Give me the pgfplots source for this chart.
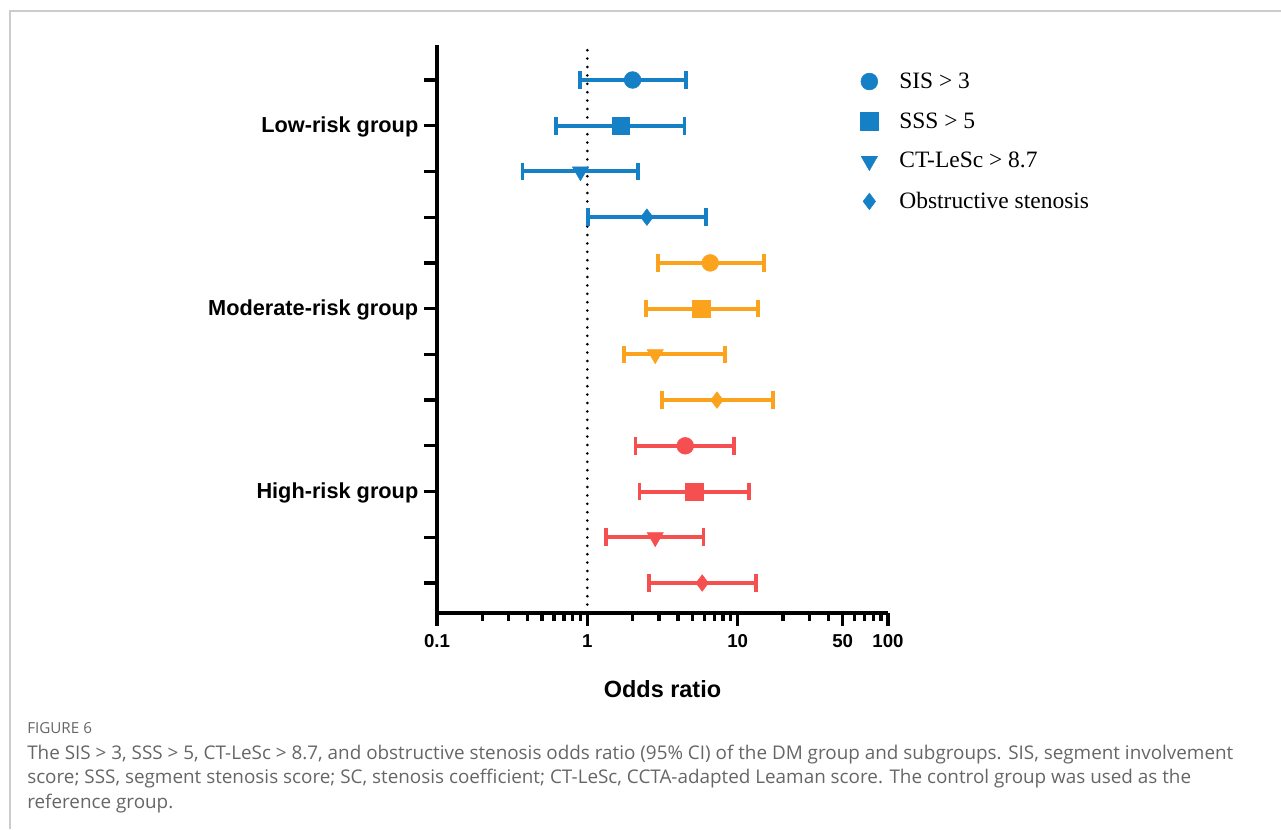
\documentclass[border=0pt]{standalone}
\usepackage{pgfplots}
\pgfplotsset{compat=1.18}
\usepackage{fontspec}
\setmainfont{Liberation Sans}
\newfontfamily\legendfont{Liberation Serif}
\newfontfamily\capfont{Open Sans}
\definecolor{cblue}{HTML}{1580C6}
\definecolor{corange}{HTML}{FBA31C}
\definecolor{cred}{HTML}{F5504F}
\definecolor{capgray}{HTML}{666666}
\pgfplotsset{
  ci/.style={line width=3pt, mark=|, mark size=6.6pt, mark options={line width=2.8pt, solid}, forget plot},
  pt/.style={only marks, mark size=6.3pt},
}
\begin{document}
\begin{tikzpicture}
\useasboundingbox (0pt,0pt) rectangle (960.75pt,-621.75pt);
\draw[black!20, line width=1.3pt] (7.5pt,-621.75pt) -- (7.5pt,-8.25pt) -- (960.75pt,-8.25pt);
\begin{axis}[
  at={(327.75pt,-459.75pt)}, anchor=south west,
  scale only axis, width=338.25pt, height=426pt,
  xmode=log, xmin=0.1, xmax=100, ymin=0.344, ymax=12.765,
  axis x line=bottom, axis y line=left,
  axis line style={line width=3pt, -},
  xtick={0.1,1,10,50,100}, xticklabels={0.1,1,10,50,100},
  minor xtick={0.2,0.3,0.4,0.5,0.6,0.7,0.8,0.9,2,3,4,5,6,7,8,9,20,30,40,60,70,80,90},
  ytick={1,2,3,4,5,6,7,8,9,10,11,12},
  yticklabels={,,High-risk group,,,,Moderate-risk group,,,,Low-risk group,},
  tick align=outside,
  major tick length=9.5pt, minor tick length=6pt,
  every tick/.style={black, line width=2.5pt},
  x tick label style={font=\fontsize{14}{16}\selectfont\bfseries, yshift=-3pt},
  y tick label style={font=\fontsize{16.3}{18}\selectfont\bfseries, xshift=-1pt, yshift=-1pt},
  xlabel={Odds ratio},
  xlabel style={font=\fontsize{17.6}{20}\selectfont\bfseries, yshift=-18pt},
  clip=false,
  legend style={draw=none, fill=none, at={(0.93,0.961)}, anchor=north west,
    font=\legendfont\fontsize{17.6}{20}\selectfont, row sep=12.7pt},
  legend cell align=left,
  legend image code/.code={\path[draw=none, fill=none] (0pt,0pt) -- (20.5pt,0pt); \draw[#1] plot coordinates {(0pt,0pt)};},
]
\addplot[black, line width=2.2pt, dash pattern=on 0pt off 6.3pt, line cap=round, forget plot]
  coordinates {(1,0.344) (1,12.765)};
% confidence intervals (95% CI)
\addplot[ci, cblue] coordinates {(0.89,12) (4.53,12)};
\addplot[ci, cblue] coordinates {(0.62,11) (4.43,11)};
\addplot[ci, cblue] coordinates {(0.37,10) (2.18,10)};
\addplot[ci, cblue] coordinates {(1.01,9) (6.18,9)};
\addplot[ci, corange] coordinates {(2.95,8) (14.9,8)};
\addplot[ci, corange] coordinates {(2.46,7) (13.6,7)};
\addplot[ci, corange] coordinates {(1.76,6) (8.26,6)};
\addplot[ci, corange] coordinates {(3.14,5) (17.1,5)};
\addplot[ci, cred] coordinates {(2.09,4) (9.48,4)};
\addplot[ci, cred] coordinates {(2.22,3) (11.9,3)};
\addplot[ci, cred] coordinates {(1.33,2) (5.93,2)};
\addplot[ci, cred] coordinates {(2.57,1) (13.27,1)};
% Low-risk group (blue)
\addplot[pt, cblue, mark=*] coordinates {(2.00,12)};
\addlegendentry{SIS > 3}
\addplot[pt, cblue, mark=square*, mark size=6.5pt] coordinates {(1.67,11)};
\addlegendentry{SSS > 5}
\addplot[pt, cblue, mark=triangle*, mark options={rotate=180}, mark size=7pt] coordinates {(0.90,10)};
\addlegendentry{CT-LeSc > 8.7}
\addplot[pt, cblue, mark=diamond*, mark size=6.2pt] coordinates {(2.49,9)};
\addlegendentry{Obstructive stenosis}
% Moderate-risk group (orange)
\addplot[pt, corange, mark=*, forget plot] coordinates {(6.57,8)};
\addplot[pt, corange, mark=square*, mark size=6.5pt, forget plot] coordinates {(5.72,7)};
\addplot[pt, corange, mark=triangle*, mark options={rotate=180}, mark size=7pt, forget plot] coordinates {(2.83,6)};
\addplot[pt, corange, mark=diamond*, mark size=6.2pt, forget plot] coordinates {(7.28,5)};
% High-risk group (red)
\addplot[pt, cred, mark=*, forget plot] coordinates {(4.48,4)};
\addplot[pt, cred, mark=square*, mark size=6.5pt, forget plot] coordinates {(5.14,3)};
\addplot[pt, cred, mark=triangle*, mark options={rotate=180}, mark size=7pt, forget plot] coordinates {(2.83,2)};
\addplot[pt, cred, mark=diamond*, mark size=6.2pt, forget plot] coordinates {(5.81,1)};
\end{axis}
\node[anchor=base west, inner sep=0pt, text=capgray, font=\capfont\fontsize{11.4}{13}\selectfont] at (20.25pt,-549.75pt) {FIGURE 6};
\begin{scope}[every node/.style={anchor=base west, inner sep=0pt, text=capgray, font=\capfont\fontsize{14.15}{17}\selectfont}]
\node at (20.25pt,-569.25pt) {The SIS > 3, SSS > 5, CT-LeSc > 8.7, and obstructive stenosis odds ratio (95\% CI) of the DM group and subgroups. SIS, segment involvement};
\node at (20.25pt,-587.6pt) {score; SSS, segment stenosis score; SC, stenosis coefficient; CT-LeSc, CCTA-adapted Leaman score. The control group was used as the};
\node at (20.25pt,-606pt) {reference group.};
\end{scope}
\end{tikzpicture}
\end{document}
